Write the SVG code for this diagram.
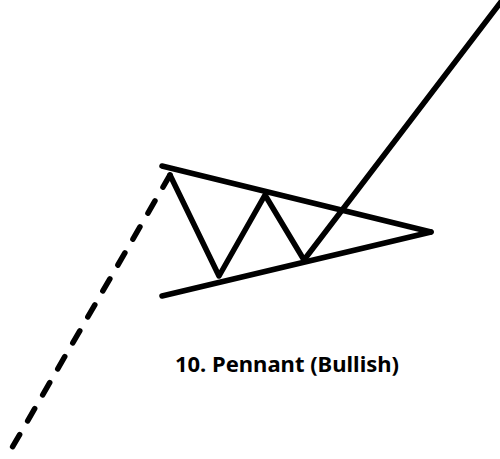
<svg xmlns="http://www.w3.org/2000/svg" width="500" height="459" viewBox="0 0 500 459">
<style>
.ln{fill:none;stroke:#000;stroke-width:5.5;stroke-linecap:round;stroke-linejoin:round}
.dash{stroke-dasharray:14 16}
.lbl{font-family:"Noto Sans","DejaVu Sans",sans-serif;font-weight:bold;font-size:22px;fill:#000}
</style>
<rect width="500" height="459" fill="#fff"/>
<g id="connectors">
<path id="prior-trend" class="ln dash" d="M170,175 L9,453"/>
<path id="upper-line" class="ln" d="M162,166 L431,232"/>
<path id="lower-line" class="ln" d="M162,296 L431,232"/>
<path id="zigzag" class="ln" d="M170,175 L219,276 L265,195 L304,260 L510,-10"/>
</g>
<g id="label">
<text class="lbl" x="287" y="372" text-anchor="middle">10. Pennant (Bullish)</text>
</g>
</svg>
